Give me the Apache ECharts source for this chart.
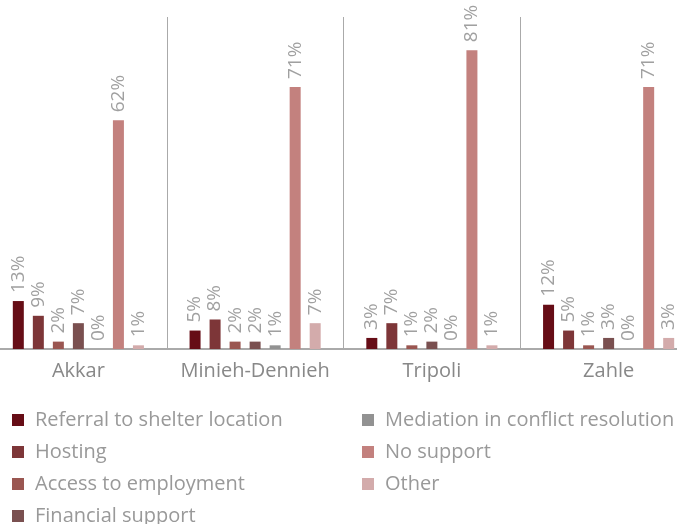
<!DOCTYPE html>
<html>
<head>
<meta charset="utf-8">
<script src="https://cdn.jsdelivr.net/npm/echarts@6/dist/echarts.min.js"></script>
<style>
  html, body { margin: 0; padding: 0; background: #fff; overflow: hidden; }
  #main { width: 707px; height: 545px; margin-left: -10px; }
</style>
</head>
<body>
<div id="main"></div>
<script>
// regions
var regions = ['Akkar', 'Minieh-Dennieh', 'Tripoli', 'Zahle'];

// share of respondents per type of support (%)
var referral = [13, 5, 3, 12];
var hosting = [9, 8, 7, 5];
var employment = [2, 2, 1, 1];
var financial = [7, 2, 2, 3];
var mediation = [0, 1, 0, 0];
var noSupport = [62, 71, 81, 71];
var other = [1, 7, 1, 3];

var seriesNames = ['Referral to shelter location', 'Hosting', 'Access to employment',
    'Financial support', 'Mediation in conflict resolution', 'No support', 'Other'];
var seriesData = [referral, hosting, employment, financial, mediation, noSupport, other];
var colors = ['#660d16', '#7d3638', '#9a5651', '#7a5050', '#929292', '#c3817e', '#d3abab'];

// the chart is a bit wider than the window, like the cropped original
var myChart = echarts.init(document.getElementById('main'));

var fontFamily = '"Open Sans", sans-serif';

var series = seriesNames.map(function (name, i) {
    return {
        name: name,
        type: 'bar',
        data: seriesData[i],
        barWidth: 11,
        barGap: '82%',
        itemStyle: { color: colors[i] },
        label: {
            show: true,
            position: 'top',
            rotate: 90,
            align: 'left',
            verticalAlign: 'middle',
            distance: 8,
            formatter: '{c}%',
            color: '#a0a0a0',
            fontSize: 19,
            fontFamily: fontFamily
        }
    };
});

var legendText = { color: '#999', fontSize: 20, fontFamily: fontFamily, padding: [0, 0, 0, 6] };

var option = {
    animation: false,
    color: colors,
    grid: { left: 0, right: 0, top: 17, bottom: 196, containLabel: false },
    legend: [
        {
            orient: 'vertical',
            left: 22,
            top: 410,
            padding: 0,
            itemWidth: 12,
            itemHeight: 12,
            itemGap: 12,
            icon: 'rect',
            textStyle: legendText,
            data: seriesNames.slice(0, 4)
        },
        {
            orient: 'vertical',
            left: 372,
            top: 410,
            padding: 0,
            itemWidth: 12,
            itemHeight: 12,
            itemGap: 12,
            icon: 'rect',
            textStyle: legendText,
            data: seriesNames.slice(4)
        }
    ],
    xAxis: {
        type: 'category',
        data: regions,
        axisTick: { show: false },
        axisLine: { lineStyle: { color: '#aaa', width: 2 } },
        splitLine: { show: true, interval: 0, lineStyle: { color: '#aaa', width: 1 } },
        axisLabel: { interval: 0, color: '#888', fontSize: 20, fontFamily: fontFamily, margin: 12 }
    },
    yAxis: {
        type: 'value',
        min: 0,
        max: 90,
        show: false,
        splitLine: { show: false }
    },
    series: series
};

myChart.setOption(option);
</script>
</body>
</html>
